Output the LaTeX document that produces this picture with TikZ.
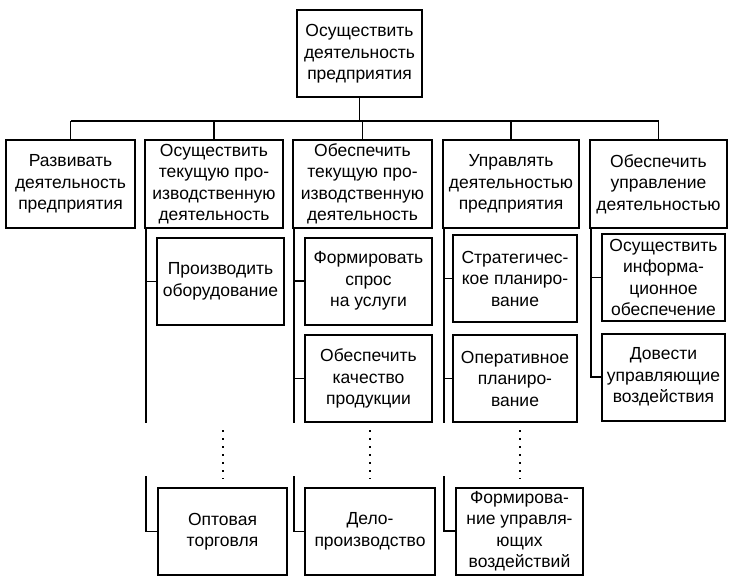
\documentclass[tikz,border=0pt]{standalone}
\usepackage{fontspec}
\setmainfont{Liberation Sans}
\begin{document}
\begin{tikzpicture}
	[x=1pt, y=-1pt,
	box/.style={draw, line width=2pt, align=center, inner sep=1pt, minimum height=87pt, font=\fontsize{17.5}{21.5}\selectfont},
	link/.style={line width=1.6pt},
	gap/.style={line width=2pt, dash pattern=on 2pt off 6pt}]
	\useasboundingbox (0,0) rectangle (742,583);
	\node[box, minimum width=125pt] (top) at (359.5,54) {Осуществить\\деятельность\\предприятия};
	\node[box, minimum width=129pt] (r1) at (70.5,184) {Развивать\\деятельность\\предприятия};
	\node[box, minimum width=138pt] (r2) at (214,184) {Осуществить\\текущую про-\\изводственную\\деятельность};
	\node[box, minimum width=139pt] (r3) at (362.5,184) {Обеспечить\\текущую про-\\изводственную\\деятельность};
	\node[box, minimum width=136pt] (r4) at (511,184) {Управлять\\деятельностью\\предприятия};
	\node[box, minimum width=137pt] (r5) at (658.5,184) {Обеспечить\\управление\\деятельностью};
	\node[box, minimum width=127pt] (s21) at (220.5,281.5) {Производить\\оборудование};
	\node[box, minimum width=127pt] (s31) at (368.5,281) {Формировать\\спрос\\на услуги};
	\node[box, minimum width=127pt] (s32) at (368.5,378.5) {Обеспечить\\качество\\продукции};
	\node[box, minimum width=124pt] (s41) at (515,278.5) {Стратегичес-\\кое планиро-\\вание};
	\node[box, minimum width=124pt] (s42) at (515,378.5) {Оперативное\\планиро-\\вание};
	\node[box, minimum width=123pt] (s51) at (663.5,277.5) {Осуществить\\информа-\\ционное\\обеспечение};
	\node[box, minimum width=123pt] (s52) at (663.5,377) {Довести\\управляющие\\воздействия};
	\node[box, minimum width=129pt] (b2) at (222.5,531.5) {Оптовая\\торговля};
	\node[box, minimum width=130pt] (b3) at (370,531.5) {Дело-\\производство};
	\node[box, minimum width=127pt] (b4) at (519.5,531) {Формирова-\\ние управля-\\ющих\\воздействий};
	\coordinate (bus) at (0,121);
	\coordinate (cut) at (0,423);
	\coordinate (rest) at (0,476);
	\coordinate (dots) at (0,430);
	\draw[link] (top.south) -- (top.south |- bus);
	\draw[link] (r1.north |- bus) -- (r5.north |- bus);
	\foreach \c in {1,...,5}
		\draw[link] (r\c.north) -- (r\c.north |- bus);
	\foreach \c in {2,...,5}
		\coordinate (sp\c) at ([xshift=2pt]r\c.south west);
	\foreach \c in {2,3,4} {
		\draw[link] (sp\c) -- (sp\c |- cut);
		\draw[link] (sp\c |- rest) |- (b\c.west);
		\draw[gap] (b\c.north |- dots) -- ([yshift=8pt]b\c.north);
	}
	\foreach \c/\s in {2/s21, 3/s31, 3/s32, 4/s41, 4/s42, 5/s51}
		\draw[link] (sp\c |- \s.west) -- (\s.west);
	\draw[link] (sp5) |- (s52.west);
\end{tikzpicture}
\end{document}
